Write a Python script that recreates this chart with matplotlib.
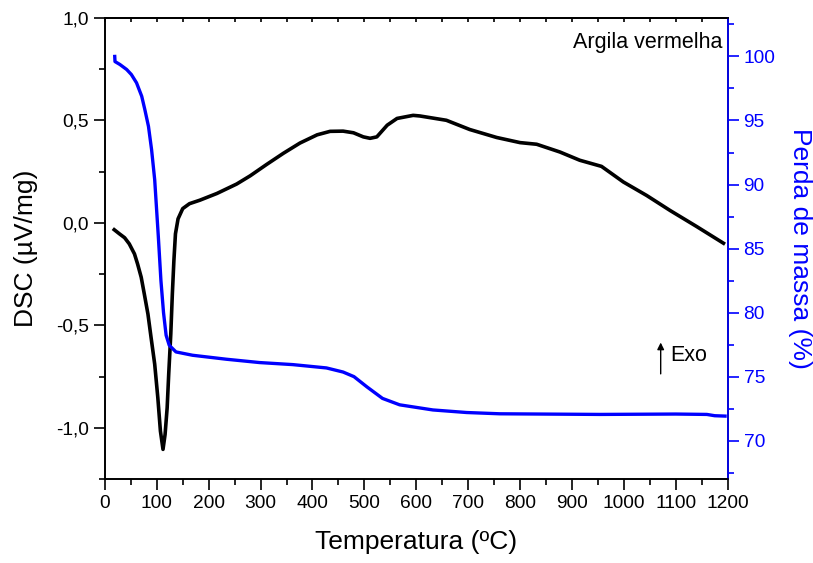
import matplotlib
matplotlib.use('Agg')
import matplotlib.pyplot as plt
from matplotlib.ticker import MultipleLocator, FuncFormatter

plt.rcParams['font.family'] = ['Liberation Sans', 'DejaVu Sans']

# DSC curve (uV/mg) vs temperature (C)
dsc_t = [18, 28, 38, 47, 57, 63, 70, 76, 83, 89, 96, 102, 107, 112, 116, 120, 123, 127, 130,
         133, 136, 141, 150, 163, 183, 216, 254, 280, 312, 344, 376, 409, 434, 459, 479, 498,
         511, 524, 544, 563, 594, 607, 658, 703, 755, 800, 832, 877, 915, 957, 999, 1044,
         1089, 1140, 1192]
dsc_v = [-0.033, -0.053, -0.072, -0.102, -0.151, -0.200, -0.265, -0.347, -0.445, -0.559,
         -0.689, -0.852, -1.015, -1.105, -1.032, -0.902, -0.738, -0.542, -0.347, -0.183,
         -0.053, 0.020, 0.070, 0.094, 0.111, 0.144, 0.19, 0.23, 0.286, 0.34, 0.39, 0.43,
         0.447, 0.448, 0.44, 0.42, 0.413, 0.42, 0.477, 0.51, 0.525, 0.522, 0.501, 0.456,
         0.417, 0.392, 0.384, 0.346, 0.306, 0.276, 0.200, 0.134, 0.061, -0.017, -0.099]

# mass loss curve (%)
tg_t = [19, 19.5, 29, 42, 51, 61, 71, 77, 84, 90, 96, 103, 108, 113, 118, 124, 137, 169,
        234, 298, 362, 427, 459, 480, 505, 535, 568, 632, 697, 761, 954, 1100, 1160, 1175,
        1195]
tg_v = [100.0, 99.6, 99.37, 98.98, 98.59, 97.94, 96.89, 95.85, 94.54, 92.72, 90.37, 85.93,
        82.5, 80.0, 78.23, 77.45, 76.93, 76.67, 76.36, 76.10, 75.94, 75.68, 75.36, 75.0,
        74.2, 73.3, 72.8, 72.4, 72.2, 72.1, 72.05, 72.08, 72.05, 71.95, 71.92]

blue = '#0000ff'

fig = plt.figure(figsize=(8.13, 5.63), dpi=100)
ax = fig.add_axes([0.129, 0.149, 0.766, 0.819])
ax2 = ax.twinx()

ax.plot(dsc_t, dsc_v, color='black', lw=2.6, zorder=3)
ax2.plot(tg_t, tg_v, color=blue, lw=2.4)

ax.set_xlim(0, 1200)
ax.set_ylim(-1.25, 1.0)
ax2.set_ylim(67.0, 103.0)

comma = FuncFormatter(lambda v, p: ('%.1f' % v).replace('.', ','))
ax.xaxis.set_major_locator(MultipleLocator(100))
ax.xaxis.set_minor_locator(MultipleLocator(50))
ax.yaxis.set_major_locator(MultipleLocator(0.5))
ax.yaxis.set_minor_locator(MultipleLocator(0.25))
ax.yaxis.set_major_formatter(comma)
ax2.yaxis.set_major_locator(MultipleLocator(5))
ax2.yaxis.set_minor_locator(MultipleLocator(2.5))
ax2.set_yticks([70, 75, 80, 85, 90, 95, 100])

for a in (ax, ax2):
    for s in a.spines.values():
        s.set_linewidth(1.2)
ax2.spines['right'].set_color(blue)

ax.tick_params(which='major', direction='out', length=8, width=1.2, labelsize=13.8)
ax.tick_params(which='minor', direction='out', length=4, width=1.2)
ax2.tick_params(which='major', direction='out', length=8, width=1.2, colors=blue, labelsize=13.8)
ax2.tick_params(which='minor', direction='out', length=4, width=1.2, colors=blue)

top = ax.secondary_xaxis('top')
top.xaxis.set_major_locator(MultipleLocator(100))
top.xaxis.set_minor_locator(MultipleLocator(50))
top.tick_params(which='both', direction='in', length=3, width=1.2, labeltop=False)
top.spines['top'].set_linewidth(1.2)

ax.set_xlabel('Temperatura (ºC)', fontsize=19, labelpad=13)
ax.set_ylabel('DSC (µV/mg)', fontsize=19, labelpad=13)
ax2.set_ylabel('Perda de massa (%)', fontsize=19, color=blue, rotation=270, labelpad=26)

ax.text(1190, 0.88, 'Argila vermelha', ha='right', va='center', fontsize=15.5)
ax.annotate('', xy=(1071, -0.57), xytext=(1071, -0.75),
            arrowprops=dict(arrowstyle='-|>', color='black', lw=1.0, mutation_scale=10))
ax.text(1090, -0.645, 'Exo', ha='left', va='center', fontsize=15.5)

fig.savefig('out.png', dpi=100)
